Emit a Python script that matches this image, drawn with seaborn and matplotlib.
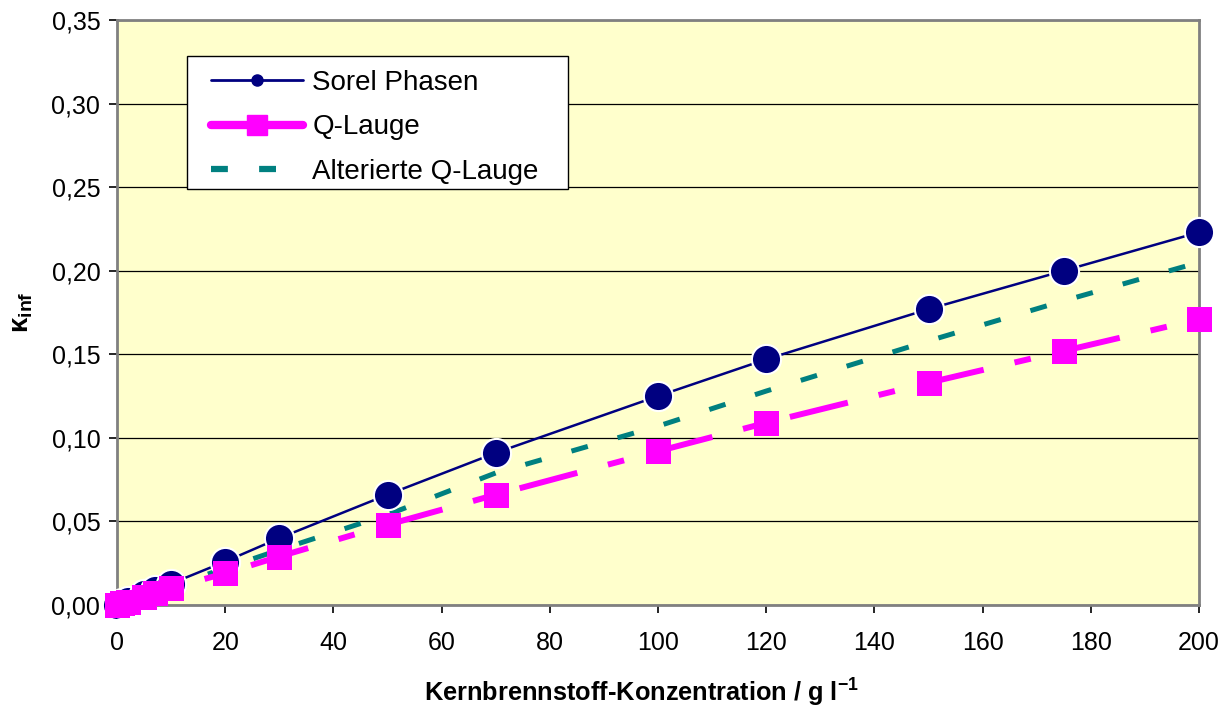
import matplotlib
matplotlib.use("Agg")
import matplotlib.pyplot as plt
import seaborn as sns
import pandas as pd
from matplotlib.lines import Line2D
from matplotlib.patches import Rectangle
from matplotlib.ticker import FuncFormatter

# ---- data ----
x_sorel = [0, 1, 2, 5, 7, 10, 20, 30, 50, 70, 100, 120, 150, 175, 200]
y_sorel = [0.000, 0.0013, 0.0026, 0.0065, 0.009, 0.0128, 0.026, 0.040, 0.066, 0.091, 0.125, 0.147, 0.177, 0.200, 0.223]

x_qlauge = [0, 1, 2, 5, 7, 10, 20, 30, 50, 70, 100, 120, 150, 175, 200]
y_qlauge = [0.000, 0.001, 0.002, 0.005, 0.007, 0.010, 0.019, 0.029, 0.048, 0.066, 0.092, 0.109, 0.133, 0.152, 0.171]

x_alt = [0, 1, 2, 5, 7, 10, 20, 30, 50, 70, 100, 120, 150, 175, 200]
y_alt = [0.000, 0.0011, 0.0022, 0.0055, 0.0078, 0.011, 0.022, 0.033, 0.054, 0.079, 0.107, 0.128, 0.158, 0.182, 0.205]

series_names = ["Sorel Phasen", "Q-Lauge", "Alterierte Q-Lauge"]
x_ticks = list(range(0, 201, 20))
y_ticks = [0.00, 0.05, 0.10, 0.15, 0.20, 0.25, 0.30, 0.35]

df_sorel = pd.DataFrame({"x": x_sorel, "y": y_sorel})
df_q = pd.DataFrame({"x": x_qlauge, "y": y_qlauge})
df_alt = pd.DataFrame({"x": x_alt, "y": y_alt})

sns.set_theme(style="white")
plt.rcParams["font.family"] = ["Liberation Sans", "DejaVu Sans"]
plt.rcParams["mathtext.fontset"] = "custom"
plt.rcParams["mathtext.rm"] = "Liberation Sans"
plt.rcParams["mathtext.bf"] = "Liberation Sans:bold"
plt.rcParams["mathtext.it"] = "Liberation Sans:italic"
for k in ["text.color", "axes.labelcolor", "xtick.color", "ytick.color"]:
    plt.rcParams[k] = "black"

W, H = 1228, 710
fig = plt.figure(figsize=(W / 100, H / 100), dpi=100)
ax = fig.add_axes([117/W, 1 - 605/H, (1199-117)/W, (605-20)/H])
ax.set_facecolor("#FFFFCC")

NAVY = "#000080"
MAG = "#FF00FF"
TEAL = "#008080"

# Alterierte Q-Lauge (dashed, no markers)
sns.lineplot(data=df_alt, x="x", y="y", ax=ax, color=TEAL, linewidth=3.6,
             zorder=2, clip_on=False)
ax.lines[-1].set_dashes((3.4, 6.2))

# Q-Lauge (long dash dot, squares)
sns.lineplot(data=df_q, x="x", y="y", ax=ax, color=MAG, linewidth=4.3,
             marker="s", markersize=18, markeredgecolor=MAG, markeredgewidth=0,
             zorder=4, clip_on=False)
ax.lines[-1].set_dashes((10, 5.3, 2.8, 5.3))

# Sorel Phasen (solid, circles)
sns.lineplot(data=df_sorel, x="x", y="y", ax=ax, color=NAVY, linewidth=1.8,
             marker="o", markersize=21, markeredgecolor="white", markeredgewidth=1.5,
             zorder=3, clip_on=False)

ax.set_xlim(0, 200)
ax.set_ylim(0, 0.35)
ax.set_xticks(x_ticks)
ax.set_yticks(y_ticks)
ax.yaxis.set_major_formatter(FuncFormatter(lambda v, p: f"{v:.2f}".replace(".", ",")))
ax.xaxis.set_major_formatter(FuncFormatter(lambda v, p: f"{int(round(v))}"))

ax.grid(axis="y", color="#000000", linewidth=0.9)
ax.grid(axis="x", visible=False)
ax.set_axisbelow(True)

for s in ax.spines.values():
    s.set_color("#808080")
    s.set_linewidth(2)

ax.tick_params(axis="x", which="major", direction="out", length=6, width=1.2,
               color="#000000", labelsize=18, pad=13, bottom=True)
ax.tick_params(axis="y", which="major", direction="out", length=6, width=1.2,
               color="#000000", labelsize=18, pad=6, left=True)

ax.set_xlabel(r"Kernbrennstoff-Konzentration / g l$^{\mathbf{-1}}$",
              fontsize=18.3, fontweight="bold")
ax.xaxis.set_label_coords((642 - 117) / 1082, -0.122)
ax.xaxis.label.set_va("top")
ax.set_ylabel(r"κ$_{\mathbf{inf}}$", fontsize=20, fontweight="bold", labelpad=12)

# Legend box
fig.patches.append(Rectangle((187/W, 1 - 189/H), (568-187)/W, (189-56)/H,
                             transform=fig.transFigure, facecolor="white",
                             edgecolor="black", linewidth=1.0, zorder=9))

handles = [
    Line2D([], [], color=NAVY, linewidth=2.0, marker="o", markersize=8),
    Line2D([], [], color=MAG, linewidth=6, marker="s", markersize=14),
    Line2D([], [], color=TEAL, linewidth=4.5, dashes=(2.7, 5.0)),
]
leg = fig.legend(handles, series_names, loc="upper left",
                 bbox_to_anchor=(211/W, 1 - 70/H),
                 frameon=False, fontsize=20, handlelength=3.3,
                 borderpad=0, labelspacing=0.66, handletextpad=0.35,
                 borderaxespad=0)
leg.set_zorder(10)

fig.savefig("out.png", dpi=100)
